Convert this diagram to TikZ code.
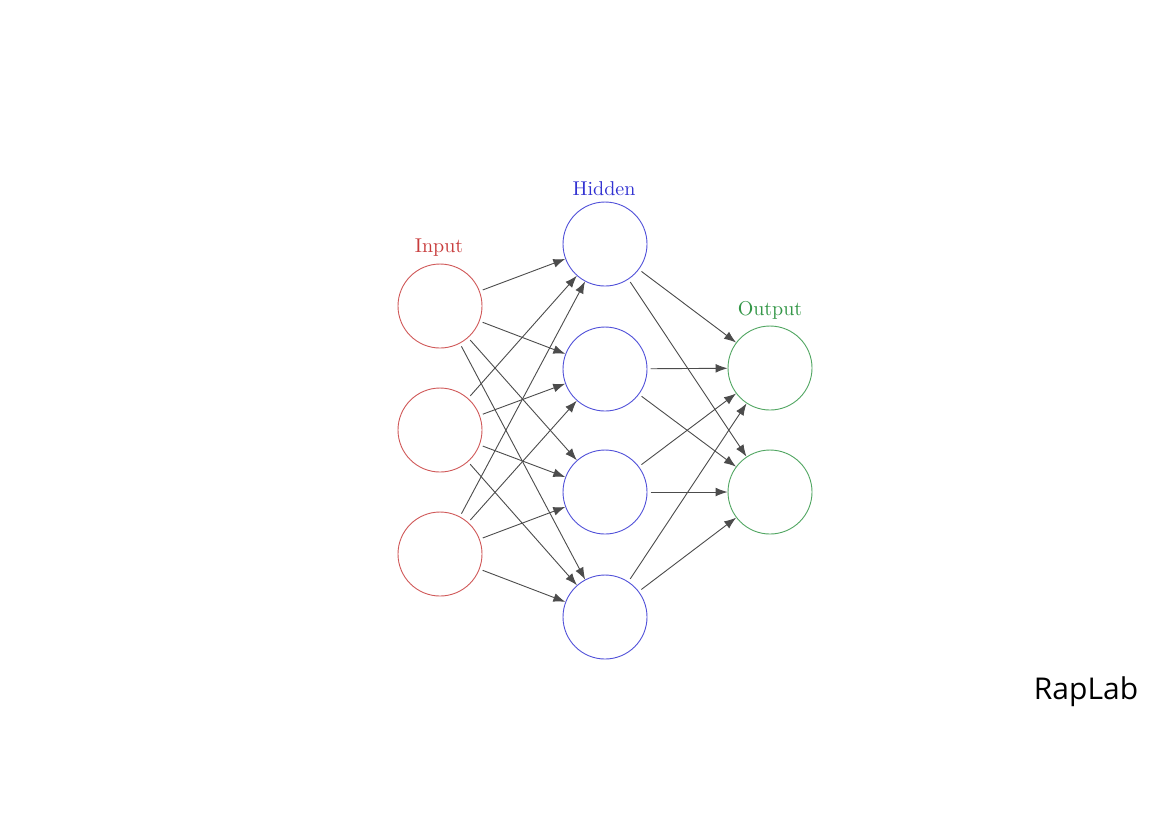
\documentclass[tikz,border=0pt]{standalone}
\usepackage{fontspec}
\newfontfamily\rapfont{Open Sans}
\usetikzlibrary{arrows.meta}
\definecolor{inred}{RGB}{200,60,60}
\definecolor{hidblue}{RGB}{50,50,210}
\definecolor{outgreen}{RGB}{50,150,70}
\tikzset{
  neuron/.style={circle,draw,minimum size=42pt,inner sep=0pt,line width=0.45pt},
  inneuron/.style={neuron,draw=inred!85},
  hidneuron/.style={neuron,draw=hidblue!85},
  outneuron/.style={neuron,draw=outgreen!85},
  conn/.style={-{Latex[length=6pt,width=4.4pt]},line width=0.45pt,draw=black!70,shorten <=1.6pt},
  lbl/.style={font=\normalsize}
}
\begin{document}
\begin{tikzpicture}[x=0.5pt,y=-0.5pt]
\useasboundingbox[fill=white] (0,0) rectangle (1170,827);
\node[inneuron] (i1) at (440,306) {};
\node[inneuron] (i2) at (440,430) {};
\node[inneuron] (i3) at (440,554) {};
\node[hidneuron] (h1) at (605,244) {};
\node[hidneuron] (h2) at (605,369) {};
\node[hidneuron] (h3) at (605,492) {};
\node[hidneuron] (h4) at (605,617) {};
\node[outneuron] (o1) at (770,368) {};
\node[outneuron] (o2) at (770,492) {};
\node[lbl,text=inred] (li) at (439,248) {Input};
\node[lbl,text=hidblue] (lh) at (604,189) {Hidden};
\node[lbl,text=outgreen] (lo) at (770,310) {Output};
\foreach \a in {1,2,3}{\foreach \b in {1,2,3,4}{\draw[conn] (i\a) -- (h\b);}}
\foreach \a in {1,2,3,4}{\foreach \b in {1,2}{\draw[conn] (h\a) -- (o\b);}}
\node[font=\rapfont\fontsize{15}{18}\selectfont] (rap) at (1086,692) {RapLab};
\end{tikzpicture}
\end{document}
